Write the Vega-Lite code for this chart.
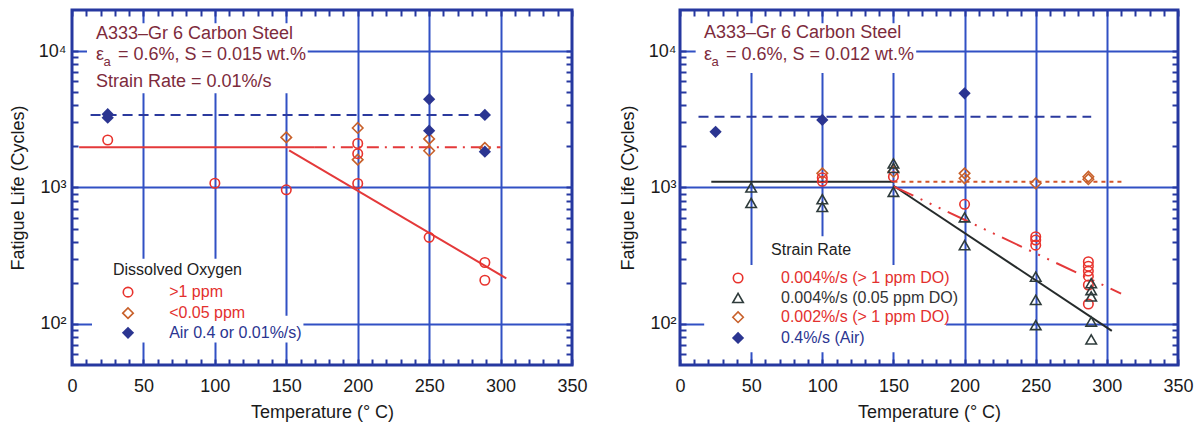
{
  "$schema": "https://vega.github.io/schema/vega-lite/v6.json",
  "background": "white",
  "padding": {"left": 7, "top": 7, "right": 5, "bottom": 0},
  "autosize": {"type": "pad"},
  "spacing": 108,
  "bounds": "flush",
  "config": {"view": {"stroke": "#2638a0", "strokeWidth": 3}, "font": "Liberation Sans"},
  "datasets": {
    "ptsL": [
      {"s": "gt1", "T": 25, "N": 2230}, {"s": "gt1", "T": 100, "N": 1075}, {"s": "gt1", "T": 150, "N": 962},
      {"s": "gt1", "T": 200, "N": 2100}, {"s": "gt1", "T": 200, "N": 1770}, {"s": "gt1", "T": 200, "N": 1070},
      {"s": "gt1", "T": 250, "N": 431}, {"s": "gt1", "T": 289, "N": 282}, {"s": "gt1", "T": 289, "N": 209},
      {"s": "lt005", "T": 150, "N": 2330}, {"s": "lt005", "T": 200, "N": 2730}, {"s": "lt005", "T": 200, "N": 1600},
      {"s": "lt005", "T": 250, "N": 2270}, {"s": "lt005", "T": 250, "N": 1860}, {"s": "lt005", "T": 289, "N": 1950},
      {"s": "air", "T": 25, "N": 3250}, {"s": "air", "T": 25, "N": 3450}, {"s": "air", "T": 250, "N": 4440},
      {"s": "air", "T": 250, "N": 2610}, {"s": "air", "T": 289, "N": 3400}, {"s": "air", "T": 289, "N": 1830}
    ],
    "linesL": [
      {"seg": "redH", "T": 5, "N": 1970}, {"seg": "redH", "T": 170, "N": 1970},
      {"seg": "redHd", "T": 170, "N": 1970}, {"seg": "redHd", "T": 300, "N": 1970},
      {"seg": "redS", "T": 152, "N": 1870}, {"seg": "redS", "T": 304, "N": 216},
      {"seg": "blueD", "T": 13, "N": 3400}, {"seg": "blueD", "T": 290, "N": 3400}
    ],
    "ptsR": [
      {"s": "c004", "T": 100, "N": 1180}, {"s": "c004", "T": 100, "N": 1110}, {"s": "c004", "T": 150, "N": 1200},
      {"s": "c004", "T": 200, "N": 753}, {"s": "c004", "T": 250, "N": 436}, {"s": "c004", "T": 250, "N": 412},
      {"s": "c004", "T": 250, "N": 378}, {"s": "c004", "T": 287, "N": 286}, {"s": "c004", "T": 287, "N": 265},
      {"s": "c004", "T": 287, "N": 244}, {"s": "c004", "T": 287, "N": 224}, {"s": "c004", "T": 287, "N": 193},
      {"s": "c004", "T": 287, "N": 140},
      {"s": "t004", "T": 50, "N": 1000}, {"s": "t004", "T": 50, "N": 770}, {"s": "t004", "T": 100, "N": 820},
      {"s": "t004", "T": 100, "N": 720}, {"s": "t004", "T": 150, "N": 1500}, {"s": "t004", "T": 150, "N": 1390},
      {"s": "t004", "T": 150, "N": 930}, {"s": "t004", "T": 200, "N": 604}, {"s": "t004", "T": 200, "N": 378},
      {"s": "t004", "T": 250, "N": 222}, {"s": "t004", "T": 250, "N": 150}, {"s": "t004", "T": 250, "N": 98},
      {"s": "t004", "T": 289, "N": 199}, {"s": "t004", "T": 289, "N": 177}, {"s": "t004", "T": 289, "N": 159},
      {"s": "t004", "T": 289, "N": 104}, {"s": "t004", "T": 289, "N": 77},
      {"s": "d002", "T": 100, "N": 1270}, {"s": "d002", "T": 150, "N": 1305}, {"s": "d002", "T": 200, "N": 1270},
      {"s": "d002", "T": 200, "N": 1168}, {"s": "d002", "T": 250, "N": 1073}, {"s": "d002", "T": 287, "N": 1200},
      {"s": "d002", "T": 287, "N": 1150},
      {"s": "air", "T": 25, "N": 2560}, {"s": "air", "T": 100, "N": 3130}, {"s": "air", "T": 200, "N": 4900}
    ],
    "linesR": [
      {"seg": "blueD", "T": 13, "N": 3300}, {"seg": "blueD", "T": 289, "N": 3300},
      {"seg": "blackH", "T": 22, "N": 1100}, {"seg": "blackH", "T": 150, "N": 1100},
      {"seg": "blackS", "T": 150, "N": 1030}, {"seg": "blackS", "T": 303.5, "N": 89},
      {"seg": "orangeD", "T": 150, "N": 1100}, {"seg": "orangeD", "T": 311, "N": 1100},
      {"seg": "redS", "T": 150, "N": 1020}, {"seg": "redS", "T": 310, "N": 167}
    ]
  },
  "hconcat": [
    {
      "width": 500,
      "height": 355,
      "resolve": {"axis": {"x": "independent", "y": "independent"}},
      "layer": [
        {"data": {"values": [{}]}, "mark": {"type": "rect", "fill": "white"},
         "encoding": {"x": {"datum": 10.5, "type": "quantitative", "axis": null}, "x2": {"datum": 165}, "y": {"datum": 4900, "type": "quantitative", "axis": null}, "y2": {"datum": 16000}}},
        {"data": {"values": [{}]}, "mark": {"type": "rect", "fill": "white"},
         "encoding": {"x": {"datum": 14, "type": "quantitative", "axis": null}, "x2": {"datum": 130}, "y": {"datum": 73, "type": "quantitative", "axis": null}, "y2": {"datum": 300}}},
        {"data": {"values": [{}]}, "mark": {"type": "rect", "fill": "white"},
         "encoding": {"x": {"datum": 123, "type": "quantitative", "axis": null}, "x2": {"datum": 162}, "y": {"datum": 73, "type": "quantitative", "axis": null}, "y2": {"datum": 115}}},
        {"data": {"name": "linesL"}, "transform": [{"filter": "datum.seg === 'blueD'"}],
         "mark": {"type": "line", "color": "#2b3a9e", "strokeWidth": 2, "strokeDash": [10, 6]},
         "encoding": {
           "x": {"field": "T", "type": "quantitative", "scale": {"domain": [0, 350], "nice": false, "zero": false},
             "axis": {"orient": "bottom", "offset": -6, "values": [0,10,20,30,40,50,60,70,80,90,100,110,120,130,140,150,160,170,180,190,200,210,220,230,240,250,260,270,280,290,300,310,320,330,340,350],
               "labelExpr": "indexof([0,50,100,150,200,250,300,350], datum.value) >= 0 ? datum.label : ''", "title": "Temperature (° C)",
               "grid": true, "gridColor": "#3150c4", "gridWidth": 2,
               "gridOpacity": {"condition": {"test": "indexof([50,100,150,200,250,300], datum.value) >= 0", "value": 1}, "value": 0},
               "tickSize": 6, "tickWidth": 2, "tickColor": "#2638a0", "domain": false,
               "labelPadding": 12, "labelFontSize": 18, "labelColor": "#1a1a1a", "labelFont": "Liberation Sans", "labelFlush": false, "labelOverlap": false,
               "titleFontSize": 18, "titleFont": "Liberation Sans", "titleFontWeight": "normal", "titleColor": "#1a1a1a", "titlePadding": 8}},
           "y": {"field": "N", "type": "quantitative", "scale": {"type": "log", "domain": [50, 20000], "nice": false},
             "axis": {"orient": "left", "offset": -6, "values": [60,70,80,90,100,200,300,400,500,600,700,800,900,1000,2000,3000,4000,5000,6000,7000,8000,9000,10000],
               "labelExpr": "datum.value === 100 ? '10²' : (datum.value === 1000 ? '10³' : (datum.value === 10000 ? '10⁴' : ''))",
               "title": "Fatigue Life (Cycles)",
               "grid": true, "gridColor": "#3150c4", "gridWidth": 2,
               "gridOpacity": {"condition": {"test": "indexof([100,1000,10000], datum.value) >= 0", "value": 1}, "value": 0},
               "tickSize": 6, "tickWidth": 2, "tickColor": "#2638a0", "domain": false,
               "labelPadding": 6, "labelFontSize": 18, "labelColor": "#1a1a1a", "labelFont": "Liberation Sans", "labelOverlap": false, "labelFlush": false,
               "titleFontSize": 18, "titleFont": "Liberation Sans", "titleFontWeight": "normal", "titleColor": "#1a1a1a", "titlePadding": 11}}
         }},
        {"data": {"values": [{}]}, "mark": {"type": "point", "opacity": 0},
         "encoding": {
           "x": {"datum": 100, "type": "quantitative",
             "axis": {"orient": "top", "offset": -6, "values": [0,10,20,30,40,50,60,70,80,90,100,110,120,130,140,150,160,170,180,190,200,210,220,230,240,250,260,270,280,290,300,310,320,330,340,350],
               "labels": false, "title": null, "grid": false, "tickSize": 6, "tickWidth": 2, "tickColor": "#2638a0", "domain": false}},
           "y": {"datum": 1000, "type": "quantitative",
             "axis": {"orient": "right", "offset": -6, "values": [60,70,80,90,100,200,300,400,500,600,700,800,900,1000,2000,3000,4000,5000,6000,7000,8000,9000,10000],
               "labels": false, "title": null, "grid": false, "tickSize": 6, "tickWidth": 2, "tickColor": "#2638a0", "domain": false}}
         }},
        {"data": {"name": "linesL"}, "transform": [{"filter": "datum.seg === 'redH'"}],
         "mark": {"type": "line", "color": "#e4393a", "strokeWidth": 2},
         "encoding": {"x": {"field": "T", "type": "quantitative", "axis": null}, "y": {"field": "N", "type": "quantitative", "axis": null}}},
        {"data": {"name": "linesL"}, "transform": [{"filter": "datum.seg === 'redHd'"}],
         "mark": {"type": "line", "color": "#e4393a", "strokeWidth": 2, "strokeDash": [12, 6, 2, 6]},
         "encoding": {"x": {"field": "T", "type": "quantitative", "axis": null}, "y": {"field": "N", "type": "quantitative", "axis": null}}},
        {"data": {"name": "linesL"}, "transform": [{"filter": "datum.seg === 'redS'"}],
         "mark": {"type": "line", "color": "#e4393a", "strokeWidth": 2},
         "encoding": {"x": {"field": "T", "type": "quantitative", "axis": null}, "y": {"field": "N", "type": "quantitative", "axis": null}}},
        {"data": {"name": "ptsL"}, "transform": [{"filter": "datum.s === 'lt005'"}],
         "mark": {"type": "point", "shape": "diamond", "filled": false, "color": "#c8602a", "strokeWidth": 1.6, "size": 110, "opacity": 1},
         "encoding": {"x": {"field": "T", "type": "quantitative", "axis": null}, "y": {"field": "N", "type": "quantitative", "axis": null}}},
        {"data": {"name": "ptsL"}, "transform": [{"filter": "datum.s === 'gt1'"}],
         "mark": {"type": "point", "shape": "circle", "filled": false, "color": "#e8322c", "strokeWidth": 1.6, "size": 90, "opacity": 1},
         "encoding": {"x": {"field": "T", "type": "quantitative", "axis": null}, "y": {"field": "N", "type": "quantitative", "axis": null}}},
        {"data": {"name": "ptsL"}, "transform": [{"filter": "datum.s === 'air'"}],
         "mark": {"type": "point", "shape": "diamond", "filled": true, "color": "#2b3591", "size": 150, "opacity": 1},
         "encoding": {"x": {"field": "T", "type": "quantitative", "axis": null}, "y": {"field": "N", "type": "quantitative", "axis": null}}},
        {"data": {"values": [{}]}, "mark": {"type": "text", "align": "left", "baseline": "middle", "fontSize": 18, "color": "#7d2b3c", "text": "A333–Gr 6 Carbon Steel"},
         "encoding": {"x": {"datum": 16.8, "type": "quantitative", "axis": null}, "y": {"datum": 13300, "type": "quantitative", "axis": null}}},
        {"data": {"values": [{}]}, "mark": {"type": "text", "align": "left", "baseline": "middle", "fontSize": 18, "color": "#7d2b3c", "text": "ε"},
         "encoding": {"x": {"datum": 16.8, "type": "quantitative", "axis": null}, "y": {"datum": 9360, "type": "quantitative", "axis": null}}},
        {"data": {"values": [{}]}, "mark": {"type": "text", "align": "left", "baseline": "middle", "fontSize": 13, "color": "#7d2b3c", "text": "a"},
         "encoding": {"x": {"datum": 22, "type": "quantitative", "axis": null}, "y": {"datum": 8300, "type": "quantitative", "axis": null}}},
        {"data": {"values": [{}]}, "mark": {"type": "text", "align": "left", "baseline": "middle", "fontSize": 18, "color": "#7d2b3c", "text": "= 0.6%, S = 0.015 wt.%"},
         "encoding": {"x": {"datum": 32.2, "type": "quantitative", "axis": null}, "y": {"datum": 9360, "type": "quantitative", "axis": null}}},
        {"data": {"values": [{}]}, "mark": {"type": "text", "align": "left", "baseline": "middle", "fontSize": 18, "color": "#7d2b3c", "text": "Strain Rate = 0.01%/s"},
         "encoding": {"x": {"datum": 16.8, "type": "quantitative", "axis": null}, "y": {"datum": 5930, "type": "quantitative", "axis": null}}},
        {"data": {"values": [{}]}, "mark": {"type": "text", "align": "left", "baseline": "middle", "fontSize": 16, "color": "#222222", "text": "Dissolved  Oxygen"},
         "encoding": {"x": {"datum": 28.7, "type": "quantitative", "axis": null}, "y": {"datum": 248, "type": "quantitative", "axis": null}}},
        {"data": {"values": [{}]}, "mark": {"type": "point", "shape": "circle", "filled": false, "color": "#e8322c", "strokeWidth": 1.6, "size": 90, "opacity": 1},
         "encoding": {"x": {"datum": 39.2, "type": "quantitative", "axis": null}, "y": {"datum": 171, "type": "quantitative", "axis": null}}},
        {"data": {"values": [{}]}, "mark": {"type": "point", "shape": "diamond", "filled": false, "color": "#c8602a", "strokeWidth": 1.6, "size": 110, "opacity": 1},
         "encoding": {"x": {"datum": 39.2, "type": "quantitative", "axis": null}, "y": {"datum": 120, "type": "quantitative", "axis": null}}},
        {"data": {"values": [{}]}, "mark": {"type": "point", "shape": "diamond", "filled": true, "color": "#2b3591", "size": 150, "opacity": 1},
         "encoding": {"x": {"datum": 39.2, "type": "quantitative", "axis": null}, "y": {"datum": 86, "type": "quantitative", "axis": null}}},
        {"data": {"values": [{}]}, "mark": {"type": "text", "align": "left", "baseline": "middle", "fontSize": 16, "color": "#e3302e", "text": ">1 ppm"},
         "encoding": {"x": {"datum": 68, "type": "quantitative", "axis": null}, "y": {"datum": 171, "type": "quantitative", "axis": null}}},
        {"data": {"values": [{}]}, "mark": {"type": "text", "align": "left", "baseline": "middle", "fontSize": 16, "color": "#e3302e", "text": "<0.05 ppm"},
         "encoding": {"x": {"datum": 68, "type": "quantitative", "axis": null}, "y": {"datum": 120, "type": "quantitative", "axis": null}}},
        {"data": {"values": [{}]}, "mark": {"type": "text", "align": "left", "baseline": "middle", "fontSize": 16, "color": "#2b3591", "text": "Air 0.4 or 0.01%/s)"},
         "encoding": {"x": {"datum": 68, "type": "quantitative", "axis": null}, "y": {"datum": 86, "type": "quantitative", "axis": null}}}
      ]
    },
    {
      "width": 498,
      "height": 355,
      "resolve": {"axis": {"x": "independent", "y": "independent"}},
      "layer": [
        {"data": {"values": [{}]}, "mark": {"type": "rect", "fill": "white"},
         "encoding": {"x": {"datum": 11, "type": "quantitative", "axis": null}, "x2": {"datum": 166}, "y": {"datum": 6900, "type": "quantitative", "axis": null}, "y2": {"datum": 16000}}},
        {"data": {"values": [{}]}, "mark": {"type": "rect", "fill": "white"},
         "encoding": {"x": {"datum": 17, "type": "quantitative", "axis": null}, "x2": {"datum": 187}, "y": {"datum": 62, "type": "quantitative", "axis": null}, "y2": {"datum": 270}}},
        {"data": {"values": [{}]}, "mark": {"type": "rect", "fill": "white"},
         "encoding": {"x": {"datum": 62, "type": "quantitative", "axis": null}, "x2": {"datum": 122}, "y": {"datum": 260, "type": "quantitative", "axis": null}, "y2": {"datum": 440}}},
        {"data": {"name": "linesR"}, "transform": [{"filter": "datum.seg === 'blueD'"}],
         "mark": {"type": "line", "color": "#2b3a9e", "strokeWidth": 2, "strokeDash": [10, 6]},
         "encoding": {
           "x": {"field": "T", "type": "quantitative", "scale": {"domain": [0, 350], "nice": false, "zero": false},
             "axis": {"orient": "bottom", "offset": -6, "values": [0,10,20,30,40,50,60,70,80,90,100,110,120,130,140,150,160,170,180,190,200,210,220,230,240,250,260,270,280,290,300,310,320,330,340,350],
               "labelExpr": "indexof([0,50,100,150,200,250,300,350], datum.value) >= 0 ? datum.label : ''", "title": "Temperature (° C)",
               "grid": true, "gridColor": "#3150c4", "gridWidth": 2,
               "gridOpacity": {"condition": {"test": "indexof([50,100,150,200,250,300], datum.value) >= 0", "value": 1}, "value": 0},
               "tickSize": 6, "tickWidth": 2, "tickColor": "#2638a0", "domain": false,
               "labelPadding": 12, "labelFontSize": 18, "labelColor": "#1a1a1a", "labelFont": "Liberation Sans", "labelFlush": false, "labelOverlap": false,
               "titleFontSize": 18, "titleFont": "Liberation Sans", "titleFontWeight": "normal", "titleColor": "#1a1a1a", "titlePadding": 8}},
           "y": {"field": "N", "type": "quantitative", "scale": {"type": "log", "domain": [50, 20000], "nice": false},
             "axis": {"orient": "left", "offset": -6, "values": [60,70,80,90,100,200,300,400,500,600,700,800,900,1000,2000,3000,4000,5000,6000,7000,8000,9000,10000],
               "labelExpr": "datum.value === 100 ? '10²' : (datum.value === 1000 ? '10³' : (datum.value === 10000 ? '10⁴' : ''))",
               "title": "Fatigue Life (Cycles)",
               "grid": true, "gridColor": "#3150c4", "gridWidth": 2,
               "gridOpacity": {"condition": {"test": "indexof([100,1000,10000], datum.value) >= 0", "value": 1}, "value": 0},
               "tickSize": 6, "tickWidth": 2, "tickColor": "#2638a0", "domain": false,
               "labelPadding": 4, "labelFontSize": 18, "labelColor": "#1a1a1a", "labelFont": "Liberation Sans", "labelOverlap": false, "labelFlush": false,
               "titleFontSize": 18, "titleFont": "Liberation Sans", "titleFontWeight": "normal", "titleColor": "#1a1a1a", "titlePadding": 11}}
         }},
        {"data": {"values": [{}]}, "mark": {"type": "point", "opacity": 0},
         "encoding": {
           "x": {"datum": 100, "type": "quantitative",
             "axis": {"orient": "top", "offset": -6, "values": [0,10,20,30,40,50,60,70,80,90,100,110,120,130,140,150,160,170,180,190,200,210,220,230,240,250,260,270,280,290,300,310,320,330,340,350],
               "labels": false, "title": null, "grid": false, "tickSize": 6, "tickWidth": 2, "tickColor": "#2638a0", "domain": false}},
           "y": {"datum": 1000, "type": "quantitative",
             "axis": {"orient": "right", "offset": -6, "values": [60,70,80,90,100,200,300,400,500,600,700,800,900,1000,2000,3000,4000,5000,6000,7000,8000,9000,10000],
               "labels": false, "title": null, "grid": false, "tickSize": 6, "tickWidth": 2, "tickColor": "#2638a0", "domain": false}}
         }},
        {"data": {"name": "linesR"}, "transform": [{"filter": "datum.seg === 'blackH'"}],
         "mark": {"type": "line", "color": "#262b2b", "strokeWidth": 2},
         "encoding": {"x": {"field": "T", "type": "quantitative", "axis": null}, "y": {"field": "N", "type": "quantitative", "axis": null}}},
        {"data": {"name": "linesR"}, "transform": [{"filter": "datum.seg === 'blackS'"}],
         "mark": {"type": "line", "color": "#262b2b", "strokeWidth": 2},
         "encoding": {"x": {"field": "T", "type": "quantitative", "axis": null}, "y": {"field": "N", "type": "quantitative", "axis": null}}},
        {"data": {"name": "linesR"}, "transform": [{"filter": "datum.seg === 'orangeD'"}],
         "mark": {"type": "line", "color": "#d2552a", "strokeWidth": 2, "strokeDash": [4, 4]},
         "encoding": {"x": {"field": "T", "type": "quantitative", "axis": null}, "y": {"field": "N", "type": "quantitative", "axis": null}}},
        {"data": {"name": "linesR"}, "transform": [{"filter": "datum.seg === 'redS'"}],
         "mark": {"type": "line", "color": "#e4393a", "strokeWidth": 2, "strokeDash": [22, 8, 2, 8, 2, 8, 2, 8]},
         "encoding": {"x": {"field": "T", "type": "quantitative", "axis": null}, "y": {"field": "N", "type": "quantitative", "axis": null}}},
        {"data": {"name": "ptsR"}, "transform": [{"filter": "datum.s === 'd002'"}],
         "mark": {"type": "point", "shape": "diamond", "filled": false, "color": "#c8602a", "strokeWidth": 1.6, "size": 110, "opacity": 1},
         "encoding": {"x": {"field": "T", "type": "quantitative", "axis": null}, "y": {"field": "N", "type": "quantitative", "axis": null}}},
        {"data": {"name": "ptsR"}, "transform": [{"filter": "datum.s === 'c004'"}],
         "mark": {"type": "point", "shape": "circle", "filled": false, "color": "#e8322c", "strokeWidth": 1.6, "size": 90, "opacity": 1},
         "encoding": {"x": {"field": "T", "type": "quantitative", "axis": null}, "y": {"field": "N", "type": "quantitative", "axis": null}}},
        {"data": {"name": "ptsR"}, "transform": [{"filter": "datum.s === 't004'"}],
         "mark": {"type": "point", "shape": "triangle-up", "filled": false, "color": "#2e3b3b", "strokeWidth": 1.6, "size": 110, "opacity": 1},
         "encoding": {"x": {"field": "T", "type": "quantitative", "axis": null}, "y": {"field": "N", "type": "quantitative", "axis": null}}},
        {"data": {"name": "ptsR"}, "transform": [{"filter": "datum.s === 'air'"}],
         "mark": {"type": "point", "shape": "diamond", "filled": true, "color": "#2b3591", "size": 150, "opacity": 1},
         "encoding": {"x": {"field": "T", "type": "quantitative", "axis": null}, "y": {"field": "N", "type": "quantitative", "axis": null}}},
        {"data": {"values": [{}]}, "mark": {"type": "text", "align": "left", "baseline": "middle", "fontSize": 18, "color": "#7d2b3c", "text": "A333–Gr 6 Carbon Steel"},
         "encoding": {"x": {"datum": 16.9, "type": "quantitative", "axis": null}, "y": {"datum": 13590, "type": "quantitative", "axis": null}}},
        {"data": {"values": [{}]}, "mark": {"type": "text", "align": "left", "baseline": "middle", "fontSize": 18, "color": "#7d2b3c", "text": "ε"},
         "encoding": {"x": {"datum": 16.9, "type": "quantitative", "axis": null}, "y": {"datum": 9360, "type": "quantitative", "axis": null}}},
        {"data": {"values": [{}]}, "mark": {"type": "text", "align": "left", "baseline": "middle", "fontSize": 13, "color": "#7d2b3c", "text": "a"},
         "encoding": {"x": {"datum": 22.1, "type": "quantitative", "axis": null}, "y": {"datum": 8300, "type": "quantitative", "axis": null}}},
        {"data": {"values": [{}]}, "mark": {"type": "text", "align": "left", "baseline": "middle", "fontSize": 18, "color": "#7d2b3c", "text": "= 0.6%, S = 0.012 wt.%"},
         "encoding": {"x": {"datum": 32.3, "type": "quantitative", "axis": null}, "y": {"datum": 9360, "type": "quantitative", "axis": null}}},
        {"data": {"values": [{}]}, "mark": {"type": "text", "align": "left", "baseline": "middle", "fontSize": 16, "color": "#222222", "text": "Strain Rate"},
         "encoding": {"x": {"datum": 64, "type": "quantitative", "axis": null}, "y": {"datum": 348, "type": "quantitative", "axis": null}}},
        {"data": {"values": [{}]}, "mark": {"type": "point", "shape": "circle", "filled": false, "color": "#e8322c", "strokeWidth": 1.6, "size": 90, "opacity": 1},
         "encoding": {"x": {"datum": 40.8, "type": "quantitative", "axis": null}, "y": {"datum": 217, "type": "quantitative", "axis": null}}},
        {"data": {"values": [{}]}, "mark": {"type": "point", "shape": "triangle-up", "filled": false, "color": "#2e3b3b", "strokeWidth": 1.6, "size": 110, "opacity": 1},
         "encoding": {"x": {"datum": 40.8, "type": "quantitative", "axis": null}, "y": {"datum": 155, "type": "quantitative", "axis": null}}},
        {"data": {"values": [{}]}, "mark": {"type": "point", "shape": "diamond", "filled": false, "color": "#c8602a", "strokeWidth": 1.6, "size": 110, "opacity": 1},
         "encoding": {"x": {"datum": 40.8, "type": "quantitative", "axis": null}, "y": {"datum": 112, "type": "quantitative", "axis": null}}},
        {"data": {"values": [{}]}, "mark": {"type": "point", "shape": "diamond", "filled": true, "color": "#2b3591", "size": 150, "opacity": 1},
         "encoding": {"x": {"datum": 40.8, "type": "quantitative", "axis": null}, "y": {"datum": 79, "type": "quantitative", "axis": null}}},
        {"data": {"values": [{}]}, "mark": {"type": "text", "align": "left", "baseline": "middle", "fontSize": 16, "color": "#e3302e", "text": "0.004%/s (> 1 ppm DO)"},
         "encoding": {"x": {"datum": 71, "type": "quantitative", "axis": null}, "y": {"datum": 217, "type": "quantitative", "axis": null}}},
        {"data": {"values": [{}]}, "mark": {"type": "text", "align": "left", "baseline": "middle", "fontSize": 16, "color": "#333333", "text": "0.004%/s (0.05 ppm DO)"},
         "encoding": {"x": {"datum": 71, "type": "quantitative", "axis": null}, "y": {"datum": 155, "type": "quantitative", "axis": null}}},
        {"data": {"values": [{}]}, "mark": {"type": "text", "align": "left", "baseline": "middle", "fontSize": 16, "color": "#e3302e", "text": "0.002%/s (> 1 ppm DO)"},
         "encoding": {"x": {"datum": 71, "type": "quantitative", "axis": null}, "y": {"datum": 112, "type": "quantitative", "axis": null}}},
        {"data": {"values": [{}]}, "mark": {"type": "text", "align": "left", "baseline": "middle", "fontSize": 16, "color": "#2b3591", "text": "0.4%/s (Air)"},
         "encoding": {"x": {"datum": 71, "type": "quantitative", "axis": null}, "y": {"datum": 79, "type": "quantitative", "axis": null}}}
      ]
    }
  ]
}
